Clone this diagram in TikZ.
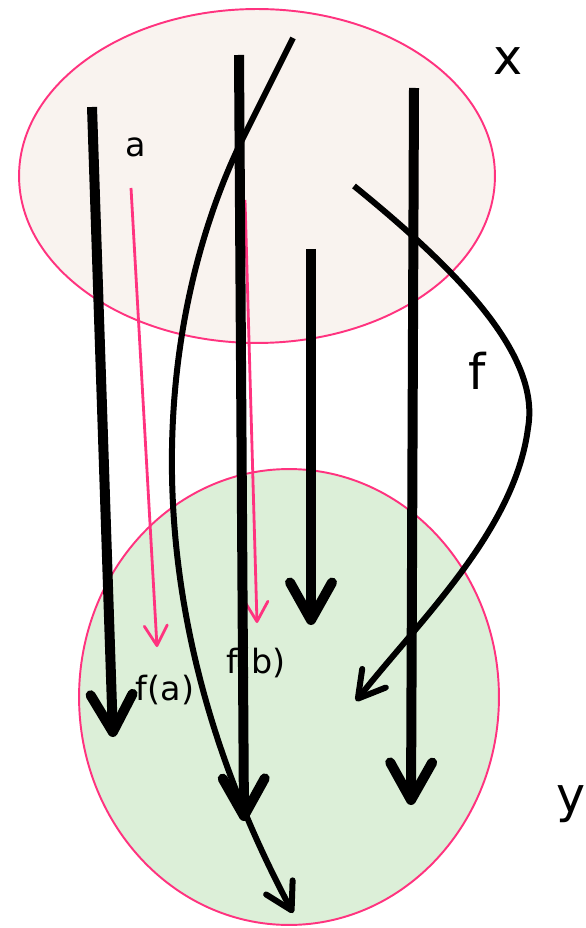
\documentclass[tikz,border=0pt]{standalone}
\usepackage{fontspec}
\setmainfont{DejaVu Sans}
\usetikzlibrary{arrows.meta,shapes.geometric}
\definecolor{rosa}{RGB}{255,51,127}
\definecolor{crema}{RGB}{249,243,239}
\definecolor{verdeclaro}{RGB}{220,239,216}

\begin{document}
\begin{tikzpicture}[
    x=0.02cm,
    y=-0.02cm,
    conjunto/.style={
        ellipse,
        draw=rosa,
        line width=1.1pt,
        inner sep=0pt
    },
    flecha/.style={
        line width=0.2cm,
        -{Straight Barb[length=0.75cm,width=0.84cm,round]}
    },
    curva/.style={
        line width=0.12cm,
        -{Straight Barb[length=0.52cm,width=0.6cm,round]}
    },
    guia/.style={
        draw=rosa,
        line width=1.6pt,
        -{Straight Barb[length=0.4cm,width=0.46cm,round]}
    },
    grande/.style={
        font=\fontsize{28}{32}\selectfont,
        inner sep=0pt
    },
    chica/.style={
        font=\fontsize{19}{22}\selectfont,
        inner sep=0pt
    }
]
    \useasboundingbox (0,0) rectangle (585,928);

    \node[conjunto, fill=crema, minimum width=9.52cm, minimum height=6.68cm]
        (dominio) at (257,176) {};
    \node[conjunto, fill=verdeclaro, minimum width=8.4cm, minimum height=9.12cm]
        (codominio) at (289,697) {};

    \node[grande] (etiq-x) at (508,61) {x};
    \node[grande] (etiq-f) at (477,371) {f};
    \node[grande, anchor=base] (etiq-y) at (571,812) {y};

    \node[chica] (a) at (136,147) {a};
    \node[chica] (fa) at (165,690) {f(a)};
    \node[chica] (fb) at (256,663) {f(b)};

    \coordinate (a-ini) at (131,188);
    \coordinate (a-fin) at (157,647);
    \coordinate (b-ini) at (245,200);
    \coordinate (b-fin) at (257,623);

    \coordinate (v1-ini) at (92,107);
    \coordinate (v1-fin) at (113,737);
    \coordinate (v2-ini) at (239,55);
    \coordinate (v2-fin) at (244,821);
    \coordinate (v3-ini) at (311,249);
    \coordinate (v3-fin) at (311,625);
    \coordinate (v4-ini) at (414,88);
    \coordinate (v4-fin) at (411,805);

    \coordinate (c-ini) at (293,38);
    \coordinate (c-codo) at (247,130);
    \coordinate (c-fin) at (293,913);
    \coordinate (f-ini) at (354,186);
    \coordinate (f-giro) at (528,428);
    \coordinate (f-fin) at (356,701);

    \draw[guia] (a-ini) -- (a-fin);
    \draw[guia] (b-ini) -- (b-fin);

    \draw[flecha] (v1-ini) -- (v1-fin);
    \draw[flecha] (v3-ini) -- (v3-fin);
    \draw[flecha] (v4-ini) -- (v4-fin);

    \draw[curva] (c-ini) -- (c-codo)
        .. controls (175,270) and (105,560) .. (c-fin);
    \draw[curva] (f-ini)
        .. controls (470,280) and (540,360) .. (f-giro)
        .. controls (515,530) and (420,620) .. (f-fin);

    \draw[flecha] (v2-ini) -- (v2-fin);
\end{tikzpicture}
\end{document}
